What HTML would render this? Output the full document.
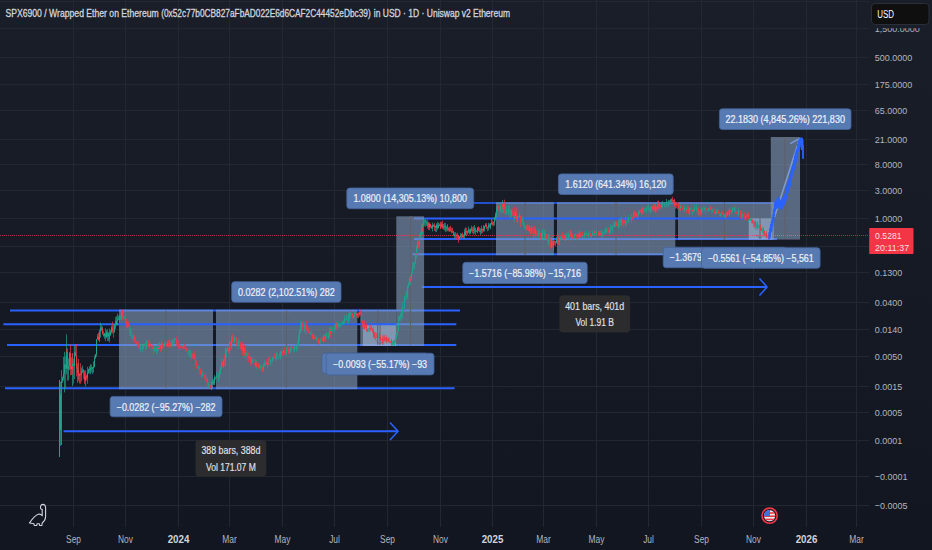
<!DOCTYPE html>
<html><head><meta charset="utf-8"><style>
html,body{margin:0;padding:0;background:#171b26;width:932px;height:550px;overflow:hidden}
svg{display:block}
text{font-family:"Liberation Sans",sans-serif}
.ax{font-size:9.5px;fill:#b2b5be}
.tm{font-size:10px;fill:#b2b5be;text-anchor:middle}
.tb{font-size:10px;fill:#d1d4dc;font-weight:bold;text-anchor:middle}
.lb{font-size:10px;fill:#eef1f8;stroke:#eef1f8;stroke-width:0.2px;text-anchor:middle}
.tt{font-size:10px;fill:#e0e3eb;stroke:#e0e3eb;stroke-width:0.15px;text-anchor:middle}
.usd{font-size:10px;fill:#ffffff}
.pr{font-size:9.5px;fill:#f7dfe1}
.ti{font-size:10px;fill:#d1d4dc;stroke:#d1d4dc;stroke-width:0.3px}
</style></head><body>
<svg width="932" height="550" viewBox="0 0 932 550">
<defs><linearGradient id="bgg" x1="0" y1="0" x2="0" y2="1"><stop offset="0" stop-color="#1a1e29"/><stop offset="1" stop-color="#121621"/></linearGradient></defs>
<rect width="932" height="550" fill="url(#bgg)"/>
<path d="M73.5 0V527M125.5 0V527M178.5 0V527M229.5 0V527M282.5 0V527M334.5 0V527M387.5 0V527M440.5 0V527M492.5 0V527M543.5 0V527M596.5 0V527M648.5 0V527M701.5 0V527M753.5 0V527M806.5 0V527M856.5 0V527M0 1.5H869M0 28.5H869M0 57.5H869M0 84.5H869M0 110.5H869M0 139.5H869M0 164.5H869M0 190.5H869M0 218.5H869M0 246.5H869M0 272.5H869M0 302.5H869M0 329.5H869M0 356.5H869M0 386.5H869M0 412.5H869M0 440.5H869M0 476.5H869M0 505.5H869" stroke="#232732" stroke-width="1" fill="none"/>
<path d="M771 235.5H800" stroke="#f23645" stroke-width="1" stroke-dasharray="1 1" fill="none"/>
<path d="M10 310.6H460" stroke="#2962ff" stroke-width="2" fill="none"/>
<path d="M396 324.2H456.3" stroke="#2962ff" stroke-width="2" fill="none"/>
<path d="M7 345H456.3" stroke="#2962ff" stroke-width="2" fill="none"/>
<path d="M5 388.2H454.6" stroke="#2962ff" stroke-width="2" fill="none"/>
<path d="M63.6 431.2H397" stroke="#2962ff" stroke-width="2" fill="none"/>
<path d="M422 287H766" stroke="#2962ff" stroke-width="2" fill="none"/>
<path d="M412.6 254.2H675" stroke="#2962ff" stroke-width="2" fill="none"/>
<path d="M414 239H777" stroke="#2962ff" stroke-width="2" fill="none"/>
<path d="M473 203H774" stroke="#2962ff" stroke-width="1.6" fill="none"/>
<path d="M414 218.5H424.2" stroke="#2962ff" stroke-width="2" fill="none"/>
<path d="M390 422.5L398 431.2L390 440" stroke="#2962ff" stroke-width="1.6" fill="none" stroke-linejoin="miter"/>
<path d="M759.5 278.5L767 287L759.5 295.5" stroke="#2962ff" stroke-width="1.6" fill="none"/>
<rect x="119" y="309.6" width="94.0" height="79.6" fill="rgba(132,156,189,0.6)"/>
<rect x="216" y="309.6" width="141.3" height="79.6" fill="rgba(132,156,189,0.6)"/>
<rect x="360.3" y="309.6" width="36.0" height="36.4" fill="rgba(132,156,189,0.6)"/>
<rect x="363" y="324.5" width="33.3" height="21.5" fill="rgba(175,195,225,0.5)"/>
<rect x="396.3" y="216.3" width="27.8" height="129.7" fill="rgba(132,156,189,0.6)"/>
<rect x="496" y="202.2" width="57.9" height="53.0" fill="rgba(132,156,189,0.6)"/>
<rect x="557" y="202.2" width="118.3" height="53.0" fill="rgba(132,156,189,0.6)"/>
<rect x="678" y="202.2" width="96.0" height="37.4" fill="rgba(132,156,189,0.6)"/>
<rect x="770.8" y="137" width="29.2" height="102.6" fill="rgba(132,156,189,0.6)"/>
<rect x="748.7" y="218.3" width="22.9" height="21.3" fill="rgba(175,195,225,0.5)"/>
<path d="M166 310.5V388" stroke="#5d606b" stroke-width="1" fill="none"/>
<path d="M162.4 383.8L166 387.5L169.6 383.8" stroke="#6a6d78" stroke-width="1" fill="none"/>
<path d="M286.4 310.5V388" stroke="#5d606b" stroke-width="1" fill="none"/>
<path d="M282.79999999999995 314.7L286.4 311.0L290.0 314.7" stroke="#6a6d78" stroke-width="1" fill="none"/>
<path d="M377.7 310.4V344.7" stroke="#5d606b" stroke-width="1" fill="none"/>
<path d="M380 324.5V344.7" stroke="#5d606b" stroke-width="1" fill="none"/>
<path d="M376.4 340.5L380 344.2L383.6 340.5" stroke="#6a6d78" stroke-width="1" fill="none"/>
<path d="M410.5 216.3V344.7" stroke="#5d606b" stroke-width="1" fill="none"/>
<path d="M406.9 220.5L410.5 216.8L414.1 220.5" stroke="#6a6d78" stroke-width="1" fill="none"/>
<path d="M525 202.2V255" stroke="#5d606b" stroke-width="1" fill="none"/>
<path d="M521.4 250.8L525 254.5L528.6 250.8" stroke="#6a6d78" stroke-width="1" fill="none"/>
<path d="M616 202.2V255" stroke="#5d606b" stroke-width="1" fill="none"/>
<path d="M612.4 206.39999999999998L616 202.7L619.6 206.39999999999998" stroke="#6a6d78" stroke-width="1" fill="none"/>
<path d="M724.5 202.2V239.6" stroke="#5d606b" stroke-width="1" fill="none"/>
<path d="M720.9 235.4L724.5 239.1L728.1 235.4" stroke="#6a6d78" stroke-width="1" fill="none"/>
<path d="M785 137V239" stroke="#5d606b" stroke-width="1" fill="none"/>
<path d="M781.4 141.2L785 137.5L788.6 141.2" stroke="#6a6d78" stroke-width="1" fill="none"/>
<path d="M760 218.3V239" stroke="#5d606b" stroke-width="1" fill="none"/>
<path d="M756.4 234.8L760 238.5L763.6 234.8" stroke="#6a6d78" stroke-width="1" fill="none"/>
<path d="M774.5 217L799.7 138.6M790.2 143.6L799.7 138.6" stroke="#7c9bd6" stroke-width="1.6" fill="none"/><path d="M773.8 202.5V217" stroke="#6f8fc8" stroke-width="1" fill="none"/>
<path d="M0 235.5H771M801 235.5H869" stroke="#f23645" stroke-opacity="0.7" stroke-width="1" stroke-dasharray="1 1" fill="none"/>
<path d="M3.4 324.2H396.3" stroke="#2962ff" stroke-width="2" fill="none"/>
<path d="M424.2 218.5H750" stroke="#2962ff" stroke-width="2" fill="none"/>
<path d="M60.5 410.9V446.0M60.5 381.8V423.2M61.5 370.1V395.1M62.5 376.6V382.9M63.5 357.0V380.5M64.5 351.8V392.4M66.5 334.3V374.3M68.5 358.5V380.1M69.5 352.0V370.1M71.5 357.3V375.0M72.5 353.9V386.0M74.5 345.1V379.0M78.5 362.8V379.1M79.5 373.3V383.5M81.5 367.6V381.4M82.5 365.5V373.0M85.5 370.3V386.4M87.5 366.8V383.8M88.5 368.6V373.8M89.5 366.1V373.6M90.5 368.0V371.6M90.5 364.2V374.3M92.5 367.1V374.1M93.5 361.5V372.6M94.5 355.6V367.4M95.5 353.9V358.6M96.5 343.8V356.9M96.5 339.3V346.1M97.5 334.1V339.4M99.5 329.4V342.1M100.5 322.5V337.6M102.5 326.3V331.9M104.5 333.3V338.9M106.5 330.0V338.0M108.5 332.3V341.2M109.5 330.9V339.1M110.5 329.9V335.5M111.5 325.6V333.5M114.5 324.0V332.8M115.5 320.7V329.1M116.5 316.2V325.4M117.5 313.5V325.6M118.5 315.5V320.3M119.5 315.3V322.7M120.5 314.9V320.1M121.5 311.7V317.8M121.5 309.6V320.0M124.5 316.1V318.5M127.5 322.4V328.6M130.5 327.4V336.1M132.5 335.5V339.0M133.5 335.2V340.4M140.5 344.0V351.6M142.5 343.7V352.7M143.5 344.7V349.3M144.5 343.6V345.8M146.5 341.4V349.7M146.5 340.4V348.8M149.5 342.3V347.1M152.5 347.2V349.6M154.5 346.4V351.2M156.5 345.5V354.6M157.5 347.3V352.8M158.5 343.2V350.6M159.5 341.8V349.1M161.5 341.1V350.3M163.5 344.2V347.9M164.5 343.9V346.1M164.5 342.3V345.8M167.5 341.2V345.4M169.5 339.7V346.9M170.5 343.0V348.1M171.5 338.9V346.3M172.5 340.2V347.0M173.5 338.9V343.5M174.5 338.0V343.3M176.5 341.3V344.9M182.5 344.5V347.6M183.5 345.7V348.1M188.5 350.7V355.5M190.5 349.7V358.4M193.5 354.1V358.8M198.5 366.1V368.8M201.5 369.0V377.0M202.5 372.2V377.5M207.5 377.4V382.2M208.5 382.1V388.7M211.5 380.8V390.0M212.5 378.6V384.5M213.5 381.2V384.3M214.5 375.2V385.1M216.5 372.2V377.4M218.5 373.1V381.9M219.5 369.6V378.5M220.5 365.9V373.9M221.5 357.8V369.0M223.5 358.7V367.8M225.5 349.3V366.7M225.5 347.1V355.7M226.5 348.1V357.5M227.5 346.8V351.6M229.5 341.0V354.1M231.5 335.8V348.5M232.5 335.6V340.5M234.5 336.5V342.6M238.5 341.7V346.5M238.5 340.2V348.7M241.5 343.8V350.5M243.5 346.7V354.8M244.5 347.2V358.0M246.5 352.5V356.1M249.5 355.2V359.1M251.5 356.5V364.6M252.5 359.1V363.0M255.5 359.2V367.5M256.5 359.6V369.6M260.5 364.3V369.7M262.5 365.9V369.8M263.5 363.3V371.5M264.5 360.1V366.9M265.5 361.8V365.5M267.5 361.6V368.3M268.5 360.4V362.7M270.5 358.8V365.9M272.5 357.0V362.2M273.5 356.8V359.6M275.5 354.7V361.1M276.5 351.8V359.5M278.5 356.6V359.4M279.5 352.8V357.0M280.5 351.3V359.5M281.5 350.9V356.8M283.5 349.8V352.8M286.5 346.2V356.7M287.5 348.3V352.1M289.5 348.3V353.0M290.5 346.9V353.8M291.5 346.2V351.3M294.5 346.0V352.4M296.5 345.1V351.9M297.5 341.7V350.5M298.5 334.0V346.7M299.5 334.7V341.7M299.5 328.9V337.9M300.5 320.8V333.5M301.5 321.5V331.8M304.5 322.0V332.1M305.5 324.4V334.8M310.5 332.0V334.6M313.5 333.6V340.1M316.5 336.4V341.2M319.5 339.9V343.9M320.5 339.3V343.5M323.5 334.4V343.0M324.5 334.7V340.2M325.5 333.5V340.2M326.5 332.1V338.8M328.5 332.4V339.2M329.5 327.5V337.9M330.5 326.8V335.3M332.5 327.5V331.9M334.5 324.0V332.7M335.5 323.0V330.0M336.5 321.3V326.1M337.5 322.9V329.0M338.5 321.9V327.3M339.5 323.9V327.4M340.5 322.6V327.6M342.5 321.8V324.8M342.5 321.0V324.1M343.5 320.9V324.6M344.5 315.4V324.2M346.5 314.7V320.3M348.5 318.5V324.2M348.5 313.3V323.0M349.5 311.7V320.8M350.5 312.4V317.9M353.5 315.7V318.3M354.5 313.1V316.5M354.5 312.0V317.3M357.5 312.9V317.9M359.5 309.0V316.5M365.5 325.1V329.1M367.5 329.9V331.2M368.5 328.0V331.8M369.5 325.1V332.0M373.5 333.2V338.3M378.5 333.3V338.5M379.5 335.3V341.1M381.5 337.6V340.3M383.5 334.5V344.7M385.5 338.5V340.7M385.5 337.0V341.7M387.5 337.4V342.1M389.5 338.1V342.7M391.5 338.4V345.2M392.5 341.3V345.7M394.5 340.0V345.9M395.5 334.4V343.4M396.5 332.7V339.1M397.5 326.6V335.6M398.5 315.7V332.0M399.5 316.4V321.0M400.5 312.4V321.3M401.5 312.9V319.7M402.5 302.4V318.2M404.5 299.2V308.6M404.5 295.9V305.1M406.5 290.8V299.7M407.5 285.5V299.1M408.5 281.7V288.6M409.5 277.2V285.3M410.5 275.2V285.2M411.5 271.9V280.7M412.5 262.5V274.2M413.5 261.9V268.4M414.5 261.9V270.1M415.5 253.6V263.6M416.5 245.2V258.7M417.5 239.4V250.1M419.5 234.1V246.3M420.5 232.2V238.4M421.5 223.8V236.2M422.5 223.4V234.3M423.5 216.9V225.5M424.5 219.1V225.9M426.5 220.4V225.8M428.5 223.1V226.6M429.5 222.3V230.2M432.5 222.6V231.4M433.5 224.4V227.0M436.5 223.3V231.9M438.5 222.5V228.5M439.5 223.4V226.1M441.5 221.9V227.8M443.5 223.9V229.6M444.5 222.8V230.4M446.5 226.1V231.5M447.5 224.8V229.1M449.5 226.8V232.0M454.5 232.4V238.5M457.5 232.7V238.0M459.5 236.7V240.0M459.5 236.4V239.1M460.5 233.1V238.3M461.5 233.6V238.9M463.5 234.2V238.0M464.5 228.8V239.1M465.5 227.3V235.1M467.5 230.4V234.8M468.5 226.5V233.0M470.5 228.4V233.9M471.5 225.8V231.2M473.5 226.2V234.3M474.5 225.0V233.5M476.5 230.6V231.7M477.5 227.1V232.9M480.5 228.2V234.8M481.5 225.8V233.8M483.5 225.2V231.7M484.5 225.7V231.6M485.5 223.3V226.8M488.5 222.8V230.5M490.5 225.4V229.3M490.5 223.2V228.1M491.5 218.9V225.0M493.5 221.8V226.1M494.5 216.8V225.6M495.5 212.2V220.6M496.5 213.0V217.0M496.5 206.7V217.9M497.5 202.5V211.4M500.5 204.7V212.3M502.5 199.9V213.1M503.5 202.5V213.0M506.5 205.8V214.9M508.5 205.4V211.6M508.5 208.4V214.6M510.5 209.7V218.8M511.5 209.3V216.9M514.5 211.0V221.5M515.5 210.8V219.0M517.5 216.2V222.7M518.5 215.4V217.3M519.5 212.5V217.6M520.5 218.8V226.4M522.5 216.7V225.1M524.5 222.6V229.4M526.5 228.8V229.9M527.5 223.8V229.9M529.5 225.6V233.2M531.5 225.9V233.8M533.5 229.4V238.1M535.5 227.4V237.4M538.5 228.9V238.7M539.5 231.8V234.7M541.5 231.8V240.0M542.5 229.0V240.2M544.5 230.2V240.1M548.5 233.8V245.4M551.5 244.8V248.0M551.5 239.1V248.0M553.5 240.8V250.5M556.5 236.8V243.3M557.5 232.1V243.7M559.5 236.1V245.3M560.5 236.5V240.8M561.5 235.5V237.1M563.5 235.1V239.4M565.5 232.8V240.9M566.5 233.7V237.3M568.5 232.8V239.6M569.5 230.7V240.8M571.5 231.3V240.5M574.5 234.3V239.2M575.5 233.4V235.9M576.5 234.2V240.2M579.5 230.2V240.3M582.5 232.8V236.8M584.5 232.4V239.2M586.5 230.9V235.2M588.5 234.3V237.8M588.5 232.6V235.6M591.5 235.3V238.6M592.5 230.3V235.5M594.5 229.7V236.7M596.5 230.5V236.0M599.5 231.1V236.5M600.5 230.2V236.3M602.5 230.1V237.3M604.5 229.5V234.2M605.5 227.9V233.6M606.5 228.8V233.1M606.5 227.1V231.7M609.5 229.1V234.4M610.5 223.8V234.2M612.5 228.3V233.2M612.5 225.6V228.8M613.5 222.6V227.1M614.5 221.7V226.8M615.5 221.1V227.2M618.5 220.3V229.4M619.5 218.7V226.9M620.5 218.3V225.6M621.5 216.5V226.2M625.5 217.5V227.3M626.5 221.1V224.7M628.5 215.2V223.0M630.5 217.3V219.0M631.5 213.7V222.8M633.5 211.6V218.8M635.5 211.3V216.9M637.5 213.9V218.7M638.5 210.6V216.1M639.5 210.1V213.9M641.5 207.4V214.9M643.5 206.6V213.5M644.5 208.4V211.7M646.5 206.0V213.6M648.5 204.3V210.4M650.5 206.2V213.5M651.5 205.5V211.8M653.5 204.4V211.6M655.5 205.5V212.5M655.5 203.9V211.3M657.5 201.3V211.2M659.5 202.7V210.4M661.5 202.6V207.7M662.5 202.5V207.3M662.5 200.8V208.4M664.5 202.4V206.7M666.5 198.9V207.3M668.5 203.9V205.1M668.5 200.1V207.2M670.5 199.0V204.3M671.5 198.5V202.4M675.5 201.7V208.7M680.5 204.4V211.3M684.5 204.9V211.8M686.5 206.0V213.0M689.5 207.6V215.4M690.5 207.7V209.8M692.5 210.0V215.2M693.5 208.6V212.4M694.5 204.5V211.6M696.5 204.3V211.6M698.5 208.6V215.9M699.5 210.3V214.9M701.5 207.3V215.0M702.5 207.6V213.0M704.5 207.3V210.6M705.5 206.7V213.2M708.5 208.0V211.9M709.5 206.5V210.5M712.5 208.8V213.0M715.5 211.1V215.2M716.5 208.4V213.8M717.5 209.0V213.0M720.5 213.3V216.4M721.5 212.4V216.8M723.5 214.8V216.9M724.5 214.4V218.0M725.5 213.1V218.2M727.5 211.4V215.7M729.5 209.8V216.5M729.5 207.7V213.5M732.5 207.6V213.2M734.5 207.4V212.2M738.5 207.4V216.6M741.5 211.2V218.8M742.5 213.8V218.9M745.5 216.0V220.0M747.5 212.5V216.7M748.5 214.7V222.1M750.5 217.8V221.2M754.5 220.4V225.0M756.5 221.8V229.1M758.5 224.8V228.4M762.5 226.4V233.7M766.5 230.9V236.7M767.5 235.5V237.4" stroke="#1fa38d" stroke-width="0.7" fill="none"/>
<path d="M65.5 356.4V388.1M66.5 349.2V358.7M67.5 348.3V380.8M70.5 344.7V375.4M72.5 352.9V374.4M73.5 358.5V383.5M75.5 344.4V356.3M76.5 344.0V376.4M77.5 363.2V382.9M78.5 358.9V381.3M80.5 363.3V383.8M83.5 369.3V378.9M84.5 370.4V377.0M84.5 373.4V383.9M86.5 374.6V380.5M91.5 364.5V372.4M98.5 332.5V340.7M101.5 324.7V330.9M102.5 327.4V334.4M103.5 331.1V336.6M105.5 328.2V341.2M107.5 329.1V341.0M109.5 328.5V342.6M112.5 321.5V333.5M113.5 324.9V337.6M115.5 316.9V327.8M122.5 309.6V320.3M123.5 312.2V320.3M125.5 313.0V324.3M126.5 318.6V328.5M127.5 322.0V326.6M128.5 321.3V327.0M129.5 324.1V336.0M131.5 329.8V339.6M133.5 332.8V340.6M134.5 335.3V343.3M135.5 337.0V342.4M136.5 340.7V344.3M137.5 340.8V347.9M138.5 341.4V348.3M139.5 344.2V349.5M139.5 344.9V350.4M141.5 344.0V350.4M145.5 341.4V350.7M147.5 340.1V346.5M148.5 340.0V348.3M150.5 343.3V346.8M151.5 345.4V350.2M152.5 345.2V349.0M153.5 345.6V355.0M155.5 346.4V351.8M158.5 345.1V349.2M160.5 345.2V351.9M162.5 342.3V349.2M165.5 339.8V345.7M166.5 343.6V347.0M168.5 339.6V347.4M170.5 342.2V347.8M175.5 337.7V340.2M176.5 336.3V346.5M177.5 341.6V346.0M178.5 340.4V349.1M179.5 343.5V350.8M180.5 345.5V348.0M181.5 345.1V350.0M182.5 346.2V349.2M184.5 343.5V348.9M185.5 344.1V352.1M186.5 347.6V351.5M187.5 349.2V354.4M189.5 348.2V356.7M189.5 352.8V356.8M191.5 350.8V361.0M192.5 353.2V358.8M194.5 350.6V359.7M195.5 353.8V365.2M195.5 361.8V366.8M196.5 360.2V368.6M197.5 365.6V370.8M199.5 365.4V374.3M200.5 368.4V375.3M201.5 369.3V374.6M203.5 370.9V375.6M204.5 374.5V379.3M205.5 373.3V381.3M206.5 378.5V382.9M207.5 377.4V385.4M209.5 383.9V386.3M210.5 385.0V388.6M213.5 378.9V385.1M215.5 376.7V379.8M217.5 372.1V377.5M219.5 368.4V375.5M222.5 361.0V367.1M224.5 354.2V366.0M228.5 347.9V352.9M230.5 341.3V350.3M232.5 333.6V342.6M233.5 335.4V344.9M235.5 337.1V341.2M236.5 336.7V345.8M237.5 338.0V346.5M239.5 339.1V346.2M240.5 341.9V349.7M242.5 341.6V355.6M244.5 344.5V356.3M245.5 344.9V360.2M247.5 349.6V360.6M248.5 352.7V362.1M250.5 356.8V365.7M250.5 359.6V362.7M253.5 357.7V363.9M254.5 362.8V365.3M256.5 361.5V367.6M257.5 363.7V367.0M258.5 363.1V368.5M259.5 363.6V369.3M261.5 364.9V371.5M262.5 366.7V372.2M266.5 358.9V365.0M268.5 357.0V365.1M269.5 357.1V365.9M271.5 359.4V363.5M274.5 353.0V358.3M275.5 356.2V360.8M277.5 352.9V358.8M281.5 348.6V356.2M282.5 351.0V355.9M284.5 347.2V355.0M285.5 352.4V354.4M287.5 345.6V351.1M288.5 346.7V354.3M292.5 346.8V348.1M293.5 346.3V352.9M293.5 345.0V351.4M295.5 344.6V350.1M302.5 322.5V330.3M303.5 320.1V327.7M305.5 326.3V331.3M306.5 320.7V330.8M307.5 326.8V333.1M308.5 327.4V333.3M309.5 329.6V334.5M311.5 330.1V336.5M311.5 333.3V335.7M312.5 333.6V339.2M314.5 336.4V339.2M315.5 334.6V340.1M317.5 337.8V343.2M318.5 338.3V342.2M318.5 338.3V344.9M321.5 336.5V341.6M322.5 337.9V341.3M324.5 336.1V342.0M327.5 333.2V337.8M330.5 328.7V337.7M331.5 326.6V334.3M333.5 326.8V329.9M336.5 322.4V329.2M341.5 321.7V325.3M345.5 318.2V321.8M347.5 314.5V323.1M351.5 310.4V315.9M352.5 313.4V318.3M355.5 309.7V314.5M356.5 313.6V316.6M358.5 312.0V318.1M360.5 309.5V315.4M361.5 311.9V320.5M361.5 317.1V321.6M362.5 320.6V327.3M363.5 320.5V329.2M364.5 320.3V329.9M366.5 323.1V331.8M367.5 328.6V332.3M370.5 324.9V331.4M371.5 323.7V330.4M372.5 328.5V333.3M373.5 326.7V337.3M374.5 331.8V338.8M375.5 332.1V340.0M376.5 332.9V337.7M377.5 335.1V339.4M379.5 332.7V339.7M380.5 334.4V340.8M382.5 335.7V344.7M384.5 335.0V341.5M386.5 335.3V343.1M388.5 337.5V341.8M390.5 341.0V343.2M391.5 339.6V345.6M393.5 339.8V345.0M397.5 328.8V330.7M403.5 306.9V313.5M405.5 291.7V301.7M410.5 276.5V282.0M416.5 247.7V254.6M418.5 240.8V248.3M422.5 224.6V231.6M425.5 218.6V227.1M427.5 219.4V228.6M428.5 221.8V230.0M430.5 223.6V228.1M431.5 225.3V228.8M434.5 222.9V226.7M434.5 225.3V231.0M435.5 225.7V231.8M437.5 221.9V229.8M440.5 221.8V228.8M440.5 223.3V228.7M442.5 220.7V229.0M445.5 222.9V232.1M447.5 224.2V231.2M448.5 227.3V231.4M450.5 225.6V231.5M451.5 227.7V233.4M452.5 227.6V232.7M453.5 231.0V235.9M453.5 230.7V235.9M455.5 232.0V238.9M456.5 233.5V240.0M458.5 234.9V242.9M462.5 232.4V238.0M465.5 230.1V236.0M466.5 227.8V235.9M469.5 228.7V234.6M471.5 227.5V231.6M472.5 227.1V233.3M475.5 227.7V234.9M477.5 228.1V233.0M478.5 226.3V231.2M479.5 227.5V232.3M482.5 228.5V233.1M483.5 225.9V230.7M486.5 223.1V229.1M487.5 226.9V231.3M489.5 223.6V227.7M492.5 220.6V225.6M498.5 205.3V210.5M499.5 204.4V214.9M501.5 202.9V212.4M502.5 203.8V209.2M504.5 199.7V213.3M505.5 204.9V215.1M507.5 208.7V214.9M509.5 204.6V216.7M512.5 208.6V215.8M513.5 211.8V220.2M514.5 206.6V218.3M516.5 207.7V221.9M520.5 215.5V227.1M521.5 215.2V221.5M523.5 216.9V226.9M525.5 224.9V233.9M526.5 224.7V230.2M528.5 225.0V231.3M530.5 227.7V234.6M532.5 227.2V234.0M533.5 225.8V236.1M534.5 225.6V234.2M536.5 230.7V235.4M537.5 230.7V238.1M539.5 228.9V237.1M540.5 232.8V240.4M543.5 228.7V237.9M545.5 229.2V238.7M545.5 230.9V238.5M546.5 234.0V239.2M547.5 233.6V243.6M549.5 235.0V245.7M550.5 237.6V249.3M552.5 240.9V247.9M554.5 240.5V245.5M555.5 240.8V246.3M557.5 234.2V240.5M558.5 237.2V244.9M562.5 232.1V239.4M563.5 233.6V239.2M564.5 235.7V240.5M567.5 231.5V239.1M569.5 230.2V241.3M570.5 229.9V236.9M572.5 233.1V239.2M573.5 236.4V239.1M576.5 234.3V239.4M577.5 230.7V238.6M578.5 233.8V238.9M580.5 232.0V237.1M581.5 234.1V239.1M582.5 231.6V236.3M583.5 234.9V238.3M585.5 232.8V236.0M587.5 233.6V239.1M589.5 230.4V237.4M590.5 233.3V236.4M593.5 232.2V235.5M594.5 230.9V235.9M595.5 231.2V234.3M597.5 232.6V234.1M598.5 231.4V235.2M600.5 231.2V235.7M601.5 232.3V237.1M603.5 232.7V236.7M607.5 228.5V233.2M608.5 227.5V232.8M611.5 225.1V230.7M616.5 220.6V226.2M617.5 222.6V227.3M619.5 222.0V225.4M622.5 218.5V225.8M623.5 219.4V227.0M624.5 220.0V223.8M625.5 215.3V225.5M627.5 217.2V223.5M629.5 217.7V220.9M631.5 214.2V223.1M632.5 216.9V220.6M634.5 210.6V217.8M636.5 212.2V217.5M637.5 212.4V216.6M640.5 209.5V212.6M642.5 207.3V214.3M643.5 206.9V212.7M645.5 207.9V212.7M647.5 205.2V210.4M649.5 207.6V210.6M649.5 208.6V211.6M652.5 205.8V210.5M654.5 203.8V211.3M656.5 206.5V212.4M658.5 200.5V208.8M660.5 204.4V208.7M663.5 202.2V205.7M665.5 202.7V207.7M667.5 201.5V206.4M669.5 200.0V206.2M672.5 196.7V202.7M673.5 199.9V203.0M674.5 199.9V204.7M674.5 198.7V206.8M676.5 202.0V208.1M677.5 203.1V209.3M678.5 202.4V208.3M679.5 205.1V212.2M680.5 205.0V211.2M681.5 204.8V208.3M682.5 205.2V210.0M683.5 205.9V210.7M685.5 208.1V210.9M686.5 207.4V213.4M687.5 205.4V211.1M688.5 206.3V214.0M691.5 204.8V212.6M692.5 209.9V211.5M695.5 206.3V210.8M697.5 206.1V214.7M698.5 207.5V215.3M700.5 209.5V216.3M703.5 205.8V210.8M705.5 207.6V213.9M706.5 208.3V210.0M707.5 208.5V212.0M710.5 206.4V209.8M711.5 206.7V210.6M711.5 207.3V213.2M713.5 207.0V211.5M714.5 209.3V213.8M717.5 210.3V213.9M718.5 210.0V214.0M719.5 212.0V216.5M722.5 210.9V214.5M723.5 213.1V217.0M726.5 211.5V218.4M728.5 210.1V215.2M730.5 210.1V212.3M731.5 209.0V215.6M733.5 206.6V210.5M735.5 205.3V212.0M735.5 208.7V214.5M736.5 211.4V213.8M737.5 209.9V215.3M739.5 209.8V212.3M740.5 210.4V218.9M741.5 214.9V219.1M743.5 210.4V218.0M744.5 211.9V219.7M746.5 214.2V220.9M748.5 212.3V219.8M749.5 217.6V219.8M751.5 218.9V223.2M752.5 219.1V223.6M753.5 220.8V227.4M754.5 221.5V227.3M755.5 220.5V229.8M757.5 221.4V230.1M759.5 225.7V228.4M760.5 224.5V230.1M760.5 226.8V230.9M761.5 227.9V230.9M763.5 227.5V234.7M764.5 230.9V235.7M765.5 233.5V236.8M766.5 231.1V238.6M768.5 234.3V239.0" stroke="#f23645" stroke-width="0.7" fill="none"/>
<path d="M60.5 414.7V429.7M60.5 394.3V414.7M61.5 381.0V394.3M62.5 378.0V381.0M63.5 373.5V378.0M64.5 364.4V373.5M66.5 351.5V368.6M68.5 366.0V369.1M69.5 353.2V366.0M71.5 366.2V369.1M72.5 363.7V369.8M74.5 352.3V365.9M78.5 370.4V373.1M79.5 374.0V375.5M81.5 371.4V374.7M82.5 369.8V371.4M85.5 376.5V380.6M87.5 372.4V377.7M88.5 369.6V372.4M89.5 369.0V370.0M90.5 368.1V369.1M90.5 367.6V368.6M92.5 367.4V368.7M93.5 366.8V367.8M94.5 358.2V366.8M95.5 354.4V358.2M96.5 345.0V354.4M96.5 339.3V345.0M97.5 336.6V339.3M99.5 331.6V339.7M100.5 327.6V331.6M102.5 328.4V330.3M104.5 333.4V335.8M106.5 332.3V337.0M108.5 333.6V336.4M109.5 335.4V337.8M110.5 332.0V335.4M111.5 327.3V332.0M114.5 325.3V331.4M115.5 322.0V325.3M116.5 321.0V324.9M117.5 319.0V321.0M118.5 318.3V319.3M119.5 317.2V318.3M120.5 317.0V318.0M121.5 315.4V317.0M121.5 310.3V315.4M124.5 316.8V318.4M127.5 323.8V325.1M130.5 332.6V333.6M132.5 335.6V336.6M133.5 335.2V336.2M140.5 347.8V348.8M142.5 347.5V349.4M143.5 345.2V347.5M144.5 344.5V345.5M146.5 344.3V347.1M146.5 343.9V344.9M149.5 344.0V345.0M152.5 347.2V348.2M154.5 347.5V351.1M156.5 349.2V351.3M157.5 347.9V349.2M158.5 345.9V348.9M159.5 345.5V346.5M161.5 344.5V348.5M163.5 344.7V345.7M164.5 344.4V345.4M164.5 343.2V344.4M167.5 342.4V345.3M169.5 344.3V346.4M170.5 344.8V345.8M171.5 343.3V344.8M172.5 343.3V344.3M173.5 340.3V343.3M174.5 338.3V340.3M176.5 342.2V343.8M182.5 346.6V347.6M183.5 345.8V346.9M188.5 350.9V351.9M190.5 353.7V354.7M193.5 354.8V357.0M198.5 366.4V367.4M201.5 372.1V373.5M202.5 373.3V374.3M207.5 380.5V381.5M208.5 384.7V385.7M211.5 382.7V386.7M212.5 381.7V382.7M213.5 383.2V384.2M214.5 377.3V383.2M216.5 376.0V377.4M218.5 376.6V377.6M219.5 371.4V376.6M220.5 367.4V373.6M221.5 362.5V367.4M223.5 359.8V365.5M225.5 355.4V360.5M225.5 352.0V355.4M226.5 351.3V352.3M227.5 348.8V351.3M229.5 342.9V349.3M231.5 339.2V346.1M232.5 336.6V339.2M234.5 337.6V342.1M238.5 343.7V344.7M238.5 341.6V343.7M241.5 345.8V348.3M243.5 346.9V351.3M244.5 349.2V353.3M246.5 353.1V355.3M249.5 357.9V358.9M251.5 359.6V361.2M252.5 359.5V360.5M255.5 363.6V364.6M256.5 363.8V366.5M260.5 365.7V368.0M262.5 367.9V368.9M263.5 364.2V368.4M264.5 363.9V364.9M265.5 362.7V363.9M267.5 362.4V364.4M268.5 360.6V362.4M270.5 359.5V362.1M272.5 358.5V360.9M273.5 356.8V358.5M275.5 358.0V359.4M276.5 353.7V358.0M278.5 356.7V357.7M279.5 355.8V356.8M280.5 351.6V355.8M281.5 352.0V353.0M283.5 350.9V352.8M286.5 350.1V352.8M287.5 349.3V350.3M289.5 350.7V351.7M290.5 348.3V350.7M291.5 347.0V348.3M294.5 346.3V350.4M296.5 347.6V349.2M297.5 345.3V347.6M298.5 338.0V345.3M299.5 336.5V338.0M299.5 330.2V336.5M300.5 325.8V330.2M301.5 323.9V325.8M304.5 326.5V327.5M305.5 325.3V329.8M310.5 332.7V333.7M313.5 336.8V337.9M316.5 338.8V339.8M319.5 340.6V341.6M320.5 339.3V340.6M323.5 336.4V340.7M324.5 336.6V339.7M325.5 335.6V336.6M326.5 334.0V335.6M328.5 336.3V337.3M329.5 331.2V336.3M330.5 330.0V334.4M332.5 328.4V330.3M334.5 326.9V329.1M335.5 325.3V326.9M336.5 324.6V325.6M337.5 324.6V326.7M338.5 324.5V325.5M339.5 324.0V325.0M340.5 323.6V324.6M342.5 322.2V324.3M342.5 321.3V322.3M343.5 321.1V322.1M344.5 318.4V321.1M346.5 318.5V319.8M348.5 319.3V320.3M348.5 317.1V319.3M349.5 314.9V317.1M350.5 313.8V314.9M353.5 316.4V317.4M354.5 314.2V316.4M354.5 312.5V314.2M357.5 314.1V315.1M359.5 312.6V314.2M365.5 325.3V328.3M367.5 330.0V331.2M368.5 328.5V330.0M369.5 328.0V329.0M373.5 333.3V335.4M378.5 336.4V338.4M379.5 337.7V339.1M381.5 338.8V340.1M383.5 337.7V341.9M385.5 338.8V339.8M385.5 338.1V339.1M387.5 339.1V340.8M389.5 341.0V342.0M391.5 340.6V342.4M392.5 342.0V343.0M394.5 341.6V342.9M395.5 337.8V341.6M396.5 335.2V337.8M397.5 329.6V335.2M398.5 320.7V330.1M399.5 316.5V320.7M400.5 316.2V317.2M401.5 313.3V316.2M402.5 307.3V313.3M404.5 304.9V307.9M404.5 296.5V304.9M406.5 294.5V297.9M407.5 286.1V294.5M408.5 283.6V286.1M409.5 278.7V283.6M410.5 278.2V280.1M411.5 272.1V278.2M412.5 267.1V272.1M413.5 265.2V267.1M414.5 262.4V265.2M415.5 253.6V262.4M416.5 248.1V254.0M417.5 242.2V248.1M419.5 235.2V242.6M420.5 232.7V235.2M421.5 227.7V232.7M422.5 225.4V229.8M423.5 221.3V225.4M424.5 220.4V221.4M426.5 222.5V223.5M428.5 224.4V226.0M429.5 224.1V227.1M432.5 225.4V228.0M433.5 225.0V226.0M436.5 224.8V227.9M438.5 225.1V228.0M439.5 225.0V226.0M441.5 224.4V226.2M443.5 226.9V227.9M444.5 225.7V226.9M446.5 228.7V229.7M447.5 227.4V228.7M449.5 229.3V230.3M454.5 234.6V235.6M457.5 235.4V236.4M459.5 236.9V238.9M459.5 236.5V237.5M460.5 235.9V236.9M461.5 234.5V235.9M463.5 235.8V237.1M464.5 231.9V235.8M465.5 231.1V233.7M467.5 231.6V232.6M468.5 229.8V231.6M470.5 230.1V233.1M471.5 228.7V230.1M473.5 229.9V230.9M474.5 228.3V229.9M476.5 230.7V231.7M477.5 227.6V232.0M480.5 230.7V231.7M481.5 229.3V230.7M483.5 228.2V229.9M484.5 226.2V229.6M485.5 225.1V226.2M488.5 225.1V227.8M490.5 225.7V226.7M490.5 223.3V225.7M491.5 222.7V223.7M493.5 222.0V223.2M494.5 218.2V222.0M495.5 214.3V218.2M496.5 213.9V214.9M496.5 209.4V213.9M497.5 206.7V209.4M500.5 206.4V210.7M502.5 204.1V208.0M503.5 203.6V207.4M506.5 209.9V211.4M508.5 210.0V211.0M508.5 208.6V210.0M510.5 214.4V215.4M511.5 211.0V214.4M514.5 211.6V217.0M515.5 212.9V215.8M517.5 216.7V219.4M518.5 216.2V217.2M519.5 216.0V217.0M520.5 218.8V222.8M522.5 220.5V221.5M524.5 226.1V227.1M526.5 228.8V229.8M527.5 227.4V229.1M529.5 228.4V231.0M531.5 229.1V230.6M533.5 229.7V233.3M535.5 232.3V233.3M538.5 233.3V234.7M539.5 231.8V233.3M541.5 236.1V237.1M542.5 233.3V236.1M544.5 232.9V236.1M548.5 238.2V241.1M551.5 245.9V246.9M551.5 243.2V245.9M553.5 241.1V244.9M556.5 239.4V243.2M557.5 237.0V239.4M559.5 239.9V240.9M560.5 236.7V239.9M561.5 235.9V236.9M563.5 236.7V238.9M565.5 236.7V238.2M566.5 235.5V236.7M568.5 233.8V238.2M569.5 233.8V237.9M571.5 234.3V236.7M574.5 234.8V237.2M575.5 234.3V235.3M576.5 234.3V236.6M579.5 233.6V237.2M582.5 233.5V236.6M584.5 233.3V236.4M586.5 233.8V234.8M588.5 234.9V236.3M588.5 233.4V234.9M591.5 235.4V236.4M592.5 233.3V235.4M594.5 232.2V235.1M596.5 232.8V233.8M599.5 232.9V234.4M600.5 232.4V235.1M602.5 232.8V234.6M604.5 232.3V233.3M605.5 230.7V232.3M606.5 230.1V231.1M606.5 228.9V230.1M609.5 230.6V231.6M610.5 227.1V230.6M612.5 228.4V229.4M612.5 226.4V228.4M613.5 226.0V227.0M614.5 224.6V226.0M615.5 223.7V224.7M618.5 222.6V227.1M619.5 221.5V222.9M620.5 221.0V222.0M621.5 220.6V221.6M625.5 219.5V222.6M626.5 221.4V222.4M628.5 218.0V221.4M630.5 217.4V218.4M631.5 217.0V219.2M633.5 214.3V217.7M635.5 213.4V215.2M637.5 214.4V216.3M638.5 212.7V215.5M639.5 210.6V212.7M641.5 209.6V211.6M643.5 209.4V211.7M644.5 209.4V210.8M646.5 207.5V210.1M648.5 208.2V209.2M650.5 208.0V210.5M651.5 206.4V208.0M653.5 207.1V209.1M655.5 208.5V209.5M655.5 207.0V208.5M657.5 204.3V208.9M659.5 205.9V206.9M661.5 205.5V206.6M662.5 204.7V205.7M662.5 204.0V205.0M664.5 203.0V204.4M666.5 202.3V203.9M668.5 203.9V204.9M668.5 201.8V203.9M670.5 200.6V202.2M671.5 199.6V200.6M675.5 204.0V205.0M680.5 205.6V209.3M684.5 208.1V210.6M686.5 208.0V210.8M689.5 208.2V212.4M690.5 208.1V209.1M692.5 211.3V212.3M693.5 209.3V211.3M694.5 208.1V209.3M696.5 207.9V209.3M698.5 208.8V212.2M699.5 211.5V212.5M701.5 208.8V212.2M702.5 208.7V209.7M704.5 208.6V209.9M705.5 208.5V211.9M708.5 208.9V211.2M709.5 208.5V209.5M712.5 209.8V210.8M715.5 211.5V213.1M716.5 211.1V212.1M717.5 211.7V212.7M720.5 214.2V215.2M721.5 212.9V214.2M723.5 215.0V216.0M724.5 214.8V215.8M725.5 214.3V215.3M727.5 212.4V215.6M729.5 212.2V214.0M729.5 210.8V212.2M732.5 207.8V212.6M734.5 208.7V209.7M738.5 210.8V214.2M741.5 214.2V215.5M742.5 214.1V215.1M745.5 216.2V217.2M747.5 215.5V216.5M748.5 218.6V219.6M750.5 219.4V220.4M754.5 222.7V223.7M756.5 224.5V226.8M758.5 226.0V227.0M762.5 230.0V231.0M766.5 233.7V234.7M767.5 236.1V237.1" stroke="#1fa38d" stroke-width="1.0" fill="none"/>
<path d="M65.5 364.4V368.6M66.5 351.5V352.5M67.5 351.9V369.1M70.5 353.2V369.1M72.5 366.2V369.8M73.5 363.7V365.9M75.5 352.3V355.7M76.5 355.7V367.7M77.5 367.7V373.1M78.5 370.4V375.5M80.5 374.0V375.0M83.5 369.8V372.4M84.5 372.4V373.9M84.5 373.9V380.6M86.5 376.5V377.7M91.5 367.6V368.7M98.5 336.6V339.7M101.5 327.6V330.3M102.5 328.4V334.2M103.5 334.2V335.8M105.5 333.4V337.0M107.5 332.3V336.4M109.5 333.6V337.8M112.5 327.3V330.8M113.5 330.8V331.8M115.5 322.0V324.9M122.5 310.3V315.9M123.5 315.9V318.4M125.5 316.8V321.2M126.5 321.2V323.3M127.5 323.3V325.1M128.5 323.8V326.2M129.5 326.2V333.3M131.5 332.6V336.6M133.5 335.2V336.9M134.5 336.9V340.8M135.5 340.8V341.9M136.5 341.9V343.1M137.5 343.1V345.3M138.5 345.3V346.4M139.5 346.4V347.4M139.5 346.7V348.3M141.5 347.8V349.4M145.5 344.5V347.1M147.5 343.9V344.9M148.5 343.9V345.0M150.5 344.0V345.5M151.5 345.5V348.0M152.5 347.2V348.7M153.5 348.7V351.1M155.5 347.5V351.3M158.5 347.9V348.9M160.5 345.5V348.5M162.5 344.5V345.5M165.5 343.2V344.4M166.5 344.4V345.4M168.5 342.4V346.4M170.5 344.3V345.5M175.5 338.3V339.8M176.5 339.8V343.8M177.5 342.2V344.2M178.5 344.2V345.2M179.5 344.4V346.9M180.5 346.9V347.9M181.5 347.0V348.0M182.5 346.6V347.6M184.5 345.8V346.8M185.5 346.7V349.2M186.5 349.2V350.2M187.5 349.8V351.4M189.5 350.9V353.4M189.5 353.4V354.4M191.5 353.7V356.7M192.5 356.7V357.7M194.5 354.8V356.9M195.5 356.9V361.8M195.5 361.8V362.8M196.5 362.7V366.0M197.5 366.0V367.2M199.5 366.4V370.7M200.5 370.7V373.5M201.5 372.1V374.3M203.5 373.3V375.6M204.5 375.6V376.6M205.5 375.9V380.2M206.5 380.2V381.2M207.5 380.5V385.4M209.5 384.7V385.7M210.5 385.7V386.7M213.5 381.7V384.2M215.5 377.3V378.3M217.5 376.0V377.0M219.5 371.4V373.6M222.5 362.5V365.5M224.5 359.8V360.8M228.5 348.8V349.8M230.5 342.9V346.1M232.5 336.6V341.3M233.5 341.3V342.3M235.5 337.6V339.9M236.5 339.9V340.9M237.5 340.2V344.3M239.5 341.6V343.0M240.5 343.0V348.3M242.5 345.8V351.3M244.5 346.9V353.3M245.5 349.2V355.3M247.5 353.1V355.9M248.5 355.9V358.3M250.5 357.9V361.1M250.5 361.1V362.1M253.5 359.5V362.9M254.5 362.9V363.9M256.5 363.6V366.5M257.5 363.8V364.9M258.5 364.9V367.4M259.5 367.4V368.4M261.5 365.7V368.3M262.5 367.9V368.9M266.5 362.7V364.4M268.5 360.6V361.6M269.5 361.1V362.1M271.5 359.5V360.9M274.5 356.8V357.8M275.5 357.1V359.4M277.5 353.7V357.4M281.5 351.6V352.6M282.5 352.0V353.0M284.5 350.9V352.5M285.5 352.5V353.5M287.5 349.3V350.3M288.5 349.7V351.0M292.5 347.0V348.0M293.5 347.6V348.9M293.5 348.9V350.4M295.5 346.3V349.2M302.5 323.9V325.7M303.5 325.7V327.2M305.5 326.5V329.8M306.5 325.3V329.0M307.5 329.0V331.8M308.5 331.8V332.8M309.5 332.5V333.5M311.5 332.7V333.7M311.5 333.3V334.3M312.5 334.3V337.9M314.5 336.8V337.8M315.5 336.9V339.8M317.5 338.8V340.1M318.5 340.1V341.1M318.5 340.9V341.9M321.5 339.3V340.3M322.5 339.5V340.7M324.5 336.4V339.7M327.5 334.0V337.3M330.5 331.2V334.4M331.5 330.0V331.0M333.5 328.4V329.4M336.5 324.6V326.7M341.5 323.6V324.6M345.5 318.4V319.8M347.5 318.5V320.2M351.5 313.8V314.8M352.5 313.9V316.4M355.5 312.5V314.0M356.5 314.0V315.0M358.5 314.1V315.1M360.5 312.6V314.3M361.5 314.3V319.1M361.5 319.1V320.8M362.5 320.8V323.5M363.5 323.5V324.5M364.5 323.6V328.3M366.5 325.3V329.2M367.5 329.2V331.2M370.5 328.0V329.0M371.5 328.2V329.2M372.5 329.0V330.3M373.5 330.3V335.4M374.5 333.3V336.0M375.5 336.0V337.0M376.5 336.5V337.5M377.5 336.8V338.4M379.5 336.4V339.1M380.5 337.7V340.1M382.5 338.8V341.9M384.5 337.7V339.8M386.5 338.1V340.8M388.5 339.1V341.1M390.5 341.0V342.4M391.5 340.6V343.0M393.5 342.0V343.0M397.5 329.6V330.6M403.5 307.3V308.3M405.5 296.5V297.9M410.5 278.7V280.1M416.5 253.6V254.6M418.5 242.2V243.2M422.5 227.7V229.8M425.5 220.4V223.0M427.5 222.5V226.0M428.5 224.4V227.1M430.5 224.1V226.3M431.5 226.3V228.0M434.5 225.0V226.1M434.5 226.1V227.1M435.5 226.1V227.9M437.5 224.8V228.0M440.5 225.0V226.0M440.5 225.8V226.8M442.5 224.4V227.3M445.5 225.7V228.7M447.5 227.4V228.4M448.5 228.3V229.7M450.5 229.3V230.8M451.5 230.8V231.8M452.5 231.5V232.5M453.5 231.6V232.7M453.5 232.7V235.5M455.5 234.6V235.6M456.5 235.2V236.2M458.5 235.4V238.9M462.5 234.5V237.1M465.5 231.9V233.7M466.5 231.1V232.6M469.5 229.8V233.1M471.5 228.7V229.7M472.5 229.7V230.7M475.5 228.3V231.6M477.5 230.7V232.0M478.5 227.6V230.6M479.5 230.6V231.6M482.5 229.3V230.3M483.5 228.2V229.6M486.5 225.1V226.9M487.5 226.9V227.9M489.5 225.1V226.1M492.5 222.7V223.7M498.5 206.7V207.8M499.5 207.8V210.7M501.5 206.4V208.0M502.5 204.1V207.4M504.5 203.6V208.6M505.5 208.6V211.4M507.5 209.9V210.9M509.5 208.6V214.5M512.5 211.0V212.1M513.5 212.1V217.0M514.5 211.6V215.8M516.5 212.9V219.4M520.5 216.0V222.8M521.5 218.8V220.6M523.5 220.5V226.4M525.5 226.1V229.0M526.5 228.8V229.8M528.5 227.4V231.0M530.5 228.4V230.6M532.5 229.1V230.1M533.5 229.8V233.3M534.5 229.7V232.5M536.5 232.3V233.3M537.5 232.6V234.7M539.5 231.8V233.0M540.5 233.0V236.2M543.5 233.3V236.1M545.5 232.9V234.0M545.5 234.0V235.0M546.5 235.0V237.9M547.5 237.9V241.1M549.5 238.2V240.6M550.5 240.6V246.5M552.5 243.2V244.9M554.5 241.1V242.1M555.5 241.6V243.2M557.5 237.0V239.2M558.5 239.2V240.4M562.5 235.9V237.4M563.5 237.4V238.9M564.5 236.7V238.2M567.5 235.5V238.2M569.5 233.8V237.9M570.5 233.8V236.7M572.5 234.3V236.8M573.5 236.8V237.8M576.5 234.3V236.6M577.5 234.3V235.3M578.5 234.3V237.2M580.5 233.6V235.8M581.5 235.8V236.8M582.5 233.5V235.8M583.5 235.8V236.8M585.5 233.3V234.3M587.5 233.8V236.3M589.5 233.4V234.4M590.5 233.6V235.5M593.5 233.3V235.1M594.5 232.2V233.2M595.5 232.9V233.9M597.5 232.8V233.8M598.5 232.9V234.4M600.5 232.9V235.1M601.5 232.4V234.6M603.5 232.8V233.8M607.5 228.9V230.6M608.5 230.6V231.6M611.5 227.1V228.7M616.5 223.7V225.8M617.5 225.8V227.1M619.5 222.6V223.6M622.5 220.6V221.6M623.5 221.4V222.4M624.5 221.7V222.7M625.5 219.5V221.7M627.5 221.4V222.4M629.5 218.0V219.0M631.5 217.4V219.2M632.5 217.0V218.0M634.5 214.3V215.3M636.5 213.4V216.3M637.5 214.4V215.5M640.5 210.6V211.6M642.5 209.6V211.7M643.5 209.4V210.8M645.5 209.4V210.4M647.5 207.5V208.5M649.5 208.2V210.3M649.5 210.3V211.3M652.5 206.4V209.1M654.5 207.1V209.2M656.5 207.0V208.9M658.5 204.3V206.5M660.5 205.9V206.9M663.5 204.0V205.0M665.5 203.0V204.0M667.5 202.3V204.7M669.5 201.8V202.8M672.5 199.6V200.6M673.5 200.3V201.8M674.5 201.8V202.8M674.5 202.1V205.0M676.5 204.0V205.0M677.5 204.4V205.4M678.5 204.4V207.9M679.5 207.9V208.9M680.5 208.5V209.5M681.5 205.6V207.6M682.5 207.6V208.6M683.5 208.5V210.6M685.5 208.1V209.7M686.5 209.7V210.8M687.5 208.0V209.0M688.5 208.6V212.4M691.5 208.1V210.1M692.5 210.1V211.5M695.5 208.1V209.3M697.5 207.9V212.2M698.5 208.8V211.7M700.5 211.5V212.5M703.5 208.7V209.9M705.5 208.6V211.9M706.5 208.5V209.6M707.5 209.6V211.2M710.5 208.5V209.5M711.5 209.2V210.2M711.5 209.8V210.8M713.5 209.8V210.8M714.5 210.8V213.1M717.5 211.1V212.1M718.5 211.7V213.2M719.5 213.2V214.5M722.5 212.9V214.2M723.5 214.2V215.5M726.5 214.3V215.6M728.5 212.4V214.0M730.5 210.8V211.9M731.5 211.9V212.9M733.5 207.8V209.0M735.5 208.7V209.8M735.5 209.8V212.8M736.5 212.8V213.8M737.5 213.0V214.2M739.5 210.8V211.8M740.5 211.3V215.3M741.5 215.3V216.3M743.5 214.1V215.2M744.5 215.2V217.2M746.5 216.2V217.2M748.5 215.5V218.7M749.5 218.6V219.6M751.5 219.4V220.4M752.5 220.0V222.6M753.5 222.6V223.6M754.5 222.7V223.7M755.5 222.7V226.8M757.5 224.5V226.8M759.5 226.0V227.3M760.5 227.3V228.3M760.5 228.1V229.1M761.5 228.6V230.6M763.5 230.0V231.2M764.5 231.2V234.1M765.5 234.1V235.1M766.5 233.7V236.7M768.5 236.1V237.1" stroke="#f23645" stroke-width="1.0" fill="none"/>
<path d="M59.5 380V457" stroke="#1fa38d" stroke-width="1"/><path d="M61.5 388V445" stroke="#f23645" stroke-width="1"/>
<path d="M769.3 232.3V239.5M770.1 228.0V237.7M770.9 223.9V232.6M771.7 220.9V230.9M772.5 217.6V226.3M773.3 214.2V222.7M774.1 208.5V216.2M774.9 202.6V210.9M775.7 200.6V209.3M776.5 201.3V208.8M777.3 198.6V208.2M778.1 197.3V207.4M778.9 197.5V207.1M779.7 199.4V207.0M780.5 200.6V208.8M781.3 201.9V209.8M782.1 200.8V208.3M782.9 197.6V206.2M783.7 198.6V205.8M784.5 195.6V203.9M785.3 193.5V201.6M786.1 188.8V198.9M786.9 187.2V195.0M787.7 184.1V193.0M788.5 182.1V190.0M789.3 179.2V188.0M790.1 175.1V185.4M790.9 173.6V180.7M791.7 169.7V178.2M792.5 166.8V174.1M793.3 164.2V171.3M794.1 160.1V169.7M794.9 155.8V166.3M795.7 152.4V163.3M796.5 150.1V159.7M797.3 148.3V156.1M798.1 143.7V152.0M798.9 140.6V150.4M799.7 139.0V147.8M800.5 137.6V145.2M801.3 137.5V142.6M802.1 138.1V146.2" stroke="#2962ff" stroke-width="2" fill="none"/>
<path d="M801.5 138V150M802.8 140V158M803.2 145V159" stroke="#2962ff" stroke-width="1.4" fill="none"/>
<rect x="110.1" y="396.4" width="111.9" height="20.4" rx="3" fill="#587ab3" stroke="#44639a" stroke-width="0.8"/>
<text x="166.1" y="410.5" class="lb" textLength="98.8" lengthAdjust="spacingAndGlyphs">−0.0282 (−95.27%) −282</text>
<rect x="231.7" y="281.7" width="109.3" height="20.5" rx="3" fill="#587ab3" stroke="#44639a" stroke-width="0.8"/>
<text x="286.4" y="295.8" class="lb" textLength="96.6" lengthAdjust="spacingAndGlyphs">0.0282 (2,102.51%) 282</text>
<rect x="322" y="353.2" width="106.0" height="20.1" rx="3" fill="#587ab3" stroke="#44639a" stroke-width="0.8"/>
<text x="375.0" y="367.1" class="lb" textLength="94.0" lengthAdjust="spacingAndGlyphs">−0.0093 (−55.17%) −93</text>
<rect x="326.2" y="353.2" width="107.8" height="21.7" rx="3" fill="#587ab3" stroke="#44639a" stroke-width="0.8"/>
<text x="380.1" y="367.9" class="lb" textLength="94.0" lengthAdjust="spacingAndGlyphs">−0.0093 (−55.17%) −93</text>
<rect x="346.8" y="188.0" width="126.9" height="20.7" rx="3" fill="#587ab3" stroke="#44639a" stroke-width="0.8"/>
<text x="410.2" y="202.2" class="lb" textLength="113.6" lengthAdjust="spacingAndGlyphs">1.0800 (14,305.13%) 10,800</text>
<rect x="462.8" y="262.3" width="124.4" height="21.2" rx="3" fill="#587ab3" stroke="#44639a" stroke-width="0.8"/>
<text x="525.0" y="276.8" class="lb" textLength="112.1" lengthAdjust="spacingAndGlyphs">−1.5716 (−85.98%) −15,716</text>
<rect x="558.4" y="173.9" width="114.8" height="20.6" rx="3" fill="#587ab3" stroke="#44639a" stroke-width="0.8"/>
<text x="615.8" y="188.1" class="lb" textLength="101.1" lengthAdjust="spacingAndGlyphs">1.6120 (641.34%) 16,120</text>
<rect x="663.2" y="247.3" width="123.1" height="20.4" rx="3" fill="#587ab3" stroke="#44639a" stroke-width="0.8"/>
<text x="724.8" y="261.4" class="lb" textLength="110.0" lengthAdjust="spacingAndGlyphs">−1.3679 (−60.22%) −13,679</text>
<rect x="701.5" y="247.7" width="118.6" height="20.6" rx="3" fill="#587ab3" stroke="#44639a" stroke-width="0.8"/>
<text x="760.8" y="261.9" class="lb" textLength="105.8" lengthAdjust="spacingAndGlyphs">−0.5561 (−54.85%) −5,561</text>
<rect x="719.4" y="108.8" width="131.6" height="20.7" rx="3" fill="#587ab3" stroke="#44639a" stroke-width="0.8"/>
<text x="785.2" y="123.1" class="lb" textLength="119.5" lengthAdjust="spacingAndGlyphs">22.1830 (4,845.26%) 221,830</text>
<rect x="195.5" y="440" width="70.8" height="36.7" rx="4" fill="#2c2b2d"/>
<text x="230.9" y="454.2" class="tt" textLength="59" lengthAdjust="spacingAndGlyphs">388 bars, 388d</text>
<text x="230.9" y="470.8" class="tt" textLength="50" lengthAdjust="spacingAndGlyphs">Vol 171.07 M</text>
<rect x="559.3" y="295.2" width="70.8" height="37.4" rx="4" fill="#2c2b2d"/>
<text x="594.7" y="310" class="tt" textLength="59" lengthAdjust="spacingAndGlyphs">401 bars, 401d</text>
<text x="594.7" y="326.2" class="tt" textLength="38.6" lengthAdjust="spacingAndGlyphs">Vol 1.91 B</text>
<text x="874.8" y="32.0" class="ax" textLength="45.0" lengthAdjust="spacingAndGlyphs">1,500.0000</text>
<text x="874.8" y="61.0" class="ax" textLength="37.5" lengthAdjust="spacingAndGlyphs">500.0000</text>
<text x="874.8" y="88.0" class="ax" textLength="37.5" lengthAdjust="spacingAndGlyphs">175.0000</text>
<text x="874.8" y="114.0" class="ax" textLength="32.5" lengthAdjust="spacingAndGlyphs">65.0000</text>
<text x="874.8" y="143.0" class="ax" textLength="32.5" lengthAdjust="spacingAndGlyphs">21.0000</text>
<text x="874.8" y="168.0" class="ax" textLength="27.5" lengthAdjust="spacingAndGlyphs">8.0000</text>
<text x="874.8" y="194.0" class="ax" textLength="27.5" lengthAdjust="spacingAndGlyphs">3.0000</text>
<text x="874.8" y="222.0" class="ax" textLength="27.5" lengthAdjust="spacingAndGlyphs">1.0000</text>
<text x="874.8" y="276.0" class="ax" textLength="27.5" lengthAdjust="spacingAndGlyphs">0.1300</text>
<text x="874.8" y="306.0" class="ax" textLength="27.5" lengthAdjust="spacingAndGlyphs">0.0400</text>
<text x="874.8" y="333.0" class="ax" textLength="27.5" lengthAdjust="spacingAndGlyphs">0.0140</text>
<text x="874.8" y="360.0" class="ax" textLength="27.5" lengthAdjust="spacingAndGlyphs">0.0050</text>
<text x="874.8" y="390.0" class="ax" textLength="27.5" lengthAdjust="spacingAndGlyphs">0.0015</text>
<text x="874.8" y="416.0" class="ax" textLength="27.5" lengthAdjust="spacingAndGlyphs">0.0005</text>
<text x="874.8" y="444.0" class="ax" textLength="27.5" lengthAdjust="spacingAndGlyphs">0.0001</text>
<text x="874.8" y="480.0" class="ax" textLength="32.8" lengthAdjust="spacingAndGlyphs">−0.0001</text>
<text x="874.8" y="509.0" class="ax" textLength="32.8" lengthAdjust="spacingAndGlyphs">−0.0005</text>
<text x="73.5" y="542.6" class="tm" textLength="14.9" lengthAdjust="spacingAndGlyphs">Sep</text>
<text x="125.5" y="542.6" class="tm" textLength="14.9" lengthAdjust="spacingAndGlyphs">Nov</text>
<text x="178.5" y="542.6" class="tb" textLength="21.7" lengthAdjust="spacingAndGlyphs">2024</text>
<text x="229.5" y="542.6" class="tm" textLength="14.5" lengthAdjust="spacingAndGlyphs">Mar</text>
<text x="282.5" y="542.6" class="tm" textLength="15.9" lengthAdjust="spacingAndGlyphs">May</text>
<text x="334.5" y="542.6" class="tm" textLength="10.7" lengthAdjust="spacingAndGlyphs">Jul</text>
<text x="387.5" y="542.6" class="tm" textLength="14.9" lengthAdjust="spacingAndGlyphs">Sep</text>
<text x="440.5" y="542.6" class="tm" textLength="14.9" lengthAdjust="spacingAndGlyphs">Nov</text>
<text x="492.5" y="542.6" class="tb" textLength="21.7" lengthAdjust="spacingAndGlyphs">2025</text>
<text x="543.5" y="542.6" class="tm" textLength="14.5" lengthAdjust="spacingAndGlyphs">Mar</text>
<text x="596.5" y="542.6" class="tm" textLength="15.9" lengthAdjust="spacingAndGlyphs">May</text>
<text x="648.5" y="542.6" class="tm" textLength="10.7" lengthAdjust="spacingAndGlyphs">Jul</text>
<text x="701.5" y="542.6" class="tm" textLength="14.9" lengthAdjust="spacingAndGlyphs">Sep</text>
<text x="753.5" y="542.6" class="tm" textLength="14.9" lengthAdjust="spacingAndGlyphs">Nov</text>
<text x="806.5" y="542.6" class="tb" textLength="21.7" lengthAdjust="spacingAndGlyphs">2026</text>
<text x="856.5" y="542.6" class="tm" textLength="14.5" lengthAdjust="spacingAndGlyphs">Mar</text>
<rect x="869" y="24.8" width="63" height="3.4" fill="#1a1e29"/>
<rect x="871.5" y="3.5" width="57.5" height="21" rx="3.5" fill="#0f0f0f" stroke="#2a2e39" stroke-width="1"/>
<text x="877.3" y="17.8" class="usd" textLength="16.7" lengthAdjust="spacingAndGlyphs">USD</text>
<rect x="869.2" y="228.1" width="44.3" height="25.9" rx="1" fill="#f23645"/>
<text x="875.1" y="238.9" class="pr" textLength="26.5" lengthAdjust="spacingAndGlyphs">0.5281</text>
<text x="875.1" y="250.7" class="pr" textLength="34" lengthAdjust="spacingAndGlyphs">20:11:37</text>
<text x="5.4" y="16.9" class="ti" textLength="153.4" lengthAdjust="spacingAndGlyphs">SPX6900 / Wrapped Ether on Ethereum</text>
<text x="161.2" y="16.9" class="ti" textLength="209.5" lengthAdjust="spacingAndGlyphs">(0x52c77b0CB827aFbAD022E6d6CAF2C44452eDbc39)</text>
<text x="373.8" y="16.9" class="ti" textLength="136.2" lengthAdjust="spacingAndGlyphs">in USD · 1D · Uniswap v2 Ethereum</text>
<circle cx="769.6" cy="515.7" r="7.6" fill="none" stroke="#f23645" stroke-width="1.6"/>
<clipPath id="fc"><circle cx="769.6" cy="515.7" r="5.6"/></clipPath>
<g clip-path="url(#fc)"><rect x="763" y="509" width="14" height="14" fill="#e9ecf2"/><rect x="763" y="509" width="14" height="1.6" fill="#f23645"/><rect x="763" y="512.2" width="14" height="1.6" fill="#f23645"/><rect x="763" y="515.4" width="14" height="1.6" fill="#f23645"/><rect x="763" y="518.6" width="14" height="1.6" fill="#f23645"/><rect x="763" y="521.6" width="14" height="1.6" fill="#f23645"/><rect x="763" y="509" width="7" height="7.2" fill="#3c6fe0"/></g>
<path d="M29.45 523C31.5 520 34 516 38.2 514.2Q40.6 513.6 42.2 515.8L42.2 509.3Q40.4 509.3 40.5 507.8L40.6 506.2Q41.1 504.4 42.9 504.4Q45.3 504.5 45.6 507.2L45.6 516.8Q45.4 520.8 42.2 523L41.9 525.5L39.6 525.5L39.3 523.7L37.1 523.7L36.8 525.5L34.2 525.5L33.9 523.7Z" stroke="#d1d4dc" stroke-width="1.1" fill="none" stroke-linejoin="round"/>
</svg>
</body></html>
